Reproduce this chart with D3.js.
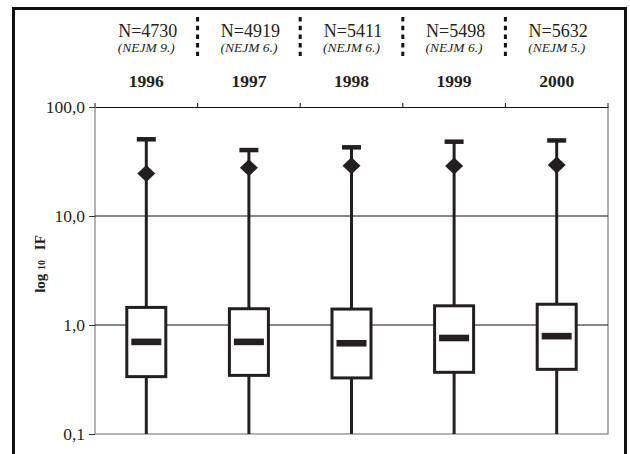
<!DOCTYPE html>
<html>
<head>
<meta charset="utf-8">
<script src="https://cdn.jsdelivr.net/npm/d3@7"></script>
<style>
  body { margin: 0; background: #fff; }
  svg { display: block; font-family: "Liberation Serif", "Times New Roman", serif; }
</style>
</head>
<body>
<div id="vis"></div>
<script>
var years = ["1996", "1997", "1998", "1999", "2000"];
var nLabels = ["N=4730", "N=4919", "N=5411", "N=5498", "N=5632"];
var nejmLabels = ["(NEJM 9.)", "(NEJM 6.)", "(NEJM 6.)", "(NEJM 6.)", "(NEJM 5.)"];
var maxValues = [50.6, 40.3, 42.7, 48.1, 49.4];
var meanValues = [24.6, 27.7, 28.9, 28.8, 29.4];
var q3Values = [1.45, 1.41, 1.40, 1.50, 1.55];
var medianValues = [0.70, 0.70, 0.68, 0.76, 0.79];
var q1Values = [0.336, 0.345, 0.327, 0.368, 0.392];
var minValues = [0.1, 0.1, 0.1, 0.1, 0.1];
var yTicks = [0.1, 1, 10, 100];
var yTickLabels = ["0,1", "1,0", "10,0", "100,0"];

var width = 630, height = 454;
var plot = { left: 95, right: 608, top: 107, bottom: 434 };
var ink = "#231f20";

var svg = d3.select("#vis").append("svg")
    .attr("width", width)
    .attr("height", height);

// outer frame (bottom runs off the page)
svg.append("path")
    .attr("d", "M13.5,470V8.5H625.5V470")
    .attr("fill", "none")
    .attr("stroke", "#111")
    .attr("stroke-width", 3);

var x = d3.scaleBand().domain(years).range([plot.left, plot.right]).padding(0);
var y = d3.scaleLog().domain([0.1, 100]).range([plot.bottom, plot.top]);

var rows = years.map(function(yr, i) {
    return { year: yr, n: nLabels[i], nejm: nejmLabels[i], max: maxValues[i], mean: meanValues[i],
             q3: q3Values[i], med: medianValues[i], q1: q1Values[i], min: minValues[i] };
});

// plot border (gray)
svg.append("path")
    .attr("d", "M" + plot.left + "," + plot.top + "V" + plot.bottom + "H" + plot.right + "V" + plot.top)
    .attr("fill", "none")
    .attr("stroke", "#9a9a9a")
    .attr("stroke-width", 1.5);

// grid lines
svg.selectAll("line.grid")
    .data([1, 10])
    .enter().append("line")
    .attr("class", "grid")
    .attr("x1", plot.left).attr("x2", plot.right)
    .attr("y1", function(d) { return y(d); })
    .attr("y2", function(d) { return y(d); })
    .attr("stroke", "#111")
    .attr("stroke-width", 1);

// left axis
var yAxis = d3.axisLeft(y)
    .tickValues(yTicks)
    .tickSize(6)
    .tickFormat(function(d, i) { return yTickLabels[i]; });

var ga = svg.append("g")
    .attr("transform", "translate(" + plot.left + ",0)")
    .call(yAxis);
ga.select(".domain").remove();
ga.selectAll(".tick line").attr("stroke", "#333");
ga.selectAll(".tick text")
    .attr("x", -10)
    .attr("font-family", "Liberation Serif")
    .attr("font-size", 17.5)
    .attr("fill", ink);

// top axis with category ticks
var xTop = d3.axisTop(x).tickSize(0).tickFormat("");
var gt = svg.append("g")
    .attr("transform", "translate(0," + plot.top + ")")
    .call(xTop);
gt.select(".domain").attr("stroke", "#111").attr("stroke-width", 1);
gt.selectAll(".tick").remove();

var bounds = years.map(function(d) { return x(d); }).concat([plot.right]);
svg.selectAll("line.btick")
    .data(bounds)
    .enter().append("line")
    .attr("class", "btick")
    .attr("x1", function(d) { return d; }).attr("x2", function(d) { return d; })
    .attr("y1", plot.top - 4).attr("y2", plot.top)
    .attr("stroke", "#111");

// dashed separators in header
svg.selectAll("line.sep")
    .data(bounds.slice(1, years.length))
    .enter().append("line")
    .attr("class", "sep")
    .attr("x1", function(d) { return d; }).attr("x2", function(d) { return d; })
    .attr("y1", 17).attr("y2", 56)
    .attr("stroke", "#111")
    .attr("stroke-width", 3)
    .attr("stroke-dasharray", "4.5,4.2");

// header labels
var cx = function(d) { return x(d.year) + x.bandwidth() / 2; };

svg.selectAll("text.nlab")
    .data(rows)
    .enter().append("text")
    .attr("x", function(d) { return cx(d) + 1.5; })
    .attr("y", 37)
    .attr("text-anchor", "middle")
    .attr("font-size", 18)
    .attr("fill", ink)
    .text(function(d) { return d.n; });

svg.selectAll("text.nejm")
    .data(rows)
    .enter().append("text")
    .attr("x", function(d) { return cx(d); })
    .attr("y", 52)
    .attr("text-anchor", "middle")
    .attr("font-size", 13.5)
    .attr("font-style", "italic")
    .attr("fill", ink)
    .text(function(d) { return d.nejm; });

svg.selectAll("text.year")
    .data(rows)
    .enter().append("text")
    .attr("x", function(d) { return cx(d); })
    .attr("y", 87)
    .attr("text-anchor", "middle")
    .attr("font-size", 17.5)
    .attr("font-weight", "bold")
    .attr("fill", ink)
    .text(function(d) { return d.year; });

// y title
var yt = svg.append("text")
    .attr("transform", "translate(45,264)rotate(-90)")
    .attr("text-anchor", "middle")
    .attr("font-size", 15)
    .attr("font-weight", "bold")
    .attr("fill", ink);
yt.append("tspan").text("log ");
yt.append("tspan").attr("font-size", 10).text("10");
yt.append("tspan").attr("dx", 6).text(" IF");

// boxes
var g = svg.append("g");
var boxW = 39, capW = 19, medW = 30;

g.selectAll("line.wup")
    .data(rows).enter().append("line")
    .attr("x1", cx).attr("x2", cx)
    .attr("y1", function(d) { return y(d.max); })
    .attr("y2", function(d) { return y(d.q3); })
    .attr("stroke", ink).attr("stroke-width", 3);

g.selectAll("line.wdown")
    .data(rows).enter().append("line")
    .attr("x1", cx).attr("x2", cx)
    .attr("y1", function(d) { return y(d.q1); })
    .attr("y2", function(d) { return y(d.min); })
    .attr("stroke", ink).attr("stroke-width", 3);

g.selectAll("rect.cap")
    .data(rows).enter().append("rect")
    .attr("x", function(d) { return cx(d) - capW / 2; })
    .attr("y", function(d) { return y(d.max) - 2.2; })
    .attr("width", capW).attr("height", 4.5)
    .attr("fill", ink);

g.selectAll("rect.box")
    .data(rows).enter().append("rect")
    .attr("x", function(d) { return cx(d) - boxW / 2; })
    .attr("y", function(d) { return y(d.q3); })
    .attr("width", boxW)
    .attr("height", function(d) { return y(d.q1) - y(d.q3); })
    .attr("fill", "#fff")
    .attr("stroke", ink).attr("stroke-width", 3);

g.selectAll("rect.med")
    .data(rows).enter().append("rect")
    .attr("x", function(d) { return cx(d) - medW / 2; })
    .attr("y", function(d) { return y(d.med) - 3.3; })
    .attr("width", medW).attr("height", 6.6)
    .attr("fill", ink);

g.selectAll("path.mean")
    .data(rows).enter().append("path")
    .attr("d", function(d) {
        var px = cx(d), py = y(d.mean);
        return "M" + px + "," + (py - 8.5) + "L" + (px + 9) + "," + py +
               "L" + px + "," + (py + 8.5) + "L" + (px - 9) + "," + py + "Z";
    })
    .attr("fill", ink);
</script>
</body>
</html>
